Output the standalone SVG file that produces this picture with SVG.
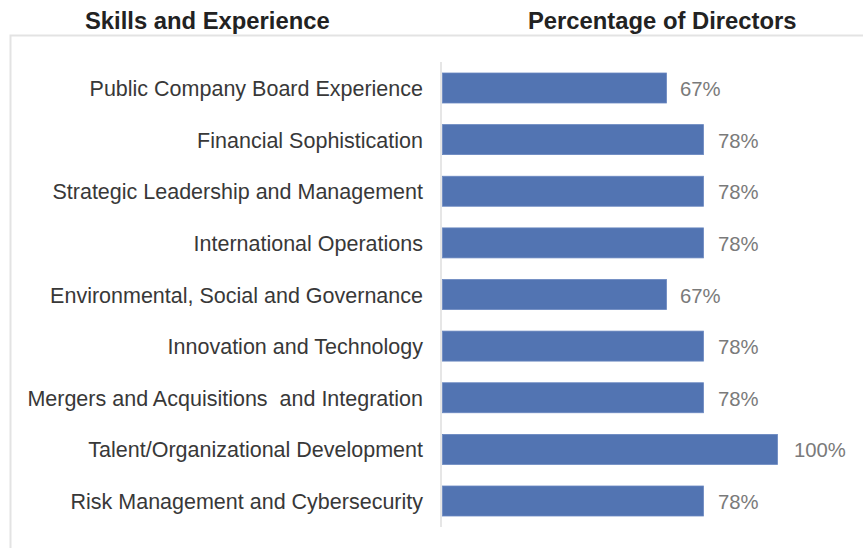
<svg xmlns="http://www.w3.org/2000/svg" width="863" height="548" viewBox="0 0 863 548">
<style>
.hdr{font-family:"Liberation Sans",Arial,sans-serif;font-weight:bold;font-size:23.8px;fill:#222222}
.lbl{font-family:"Liberation Sans",Arial,sans-serif;font-size:21.5px;fill:#383838;text-anchor:end}
.val{font-family:"Liberation Sans",Arial,sans-serif;font-size:20.3px;fill:#7a7a7a}
.bar{fill:#5274b2;stroke:#6a88c0;stroke-width:0.8}
.frame{stroke:#e3e3e3;stroke-width:2;fill:none}
</style>
<rect x="0" y="0" width="863" height="548" fill="#ffffff"/>
<g id="frame">
<path class="frame" d="M10.5 548 V35.5 H863"/>
<line x1="441" y1="62" x2="441" y2="527" stroke="#e6e6e6" stroke-width="2"/>
</g>
<g id="headers">
<text class="hdr" x="85" y="29">Skills and Experience</text>
<text class="hdr" x="528" y="29">Percentage of Directors</text>
</g>
<g id="row1">
<text class="lbl" x="423" y="96">Public Company Board Experience</text>
<rect class="bar" x="442.5" y="73" width="224" height="30"/>
<text class="val" x="680" y="96">67%</text>
</g>
<g id="row2">
<text class="lbl" x="423" y="147.6">Financial Sophistication</text>
<rect class="bar" x="442.5" y="124.6" width="261" height="30"/>
<text class="val" x="718" y="147.6">78%</text>
</g>
<g id="row3">
<text class="lbl" x="423" y="199.25">Strategic Leadership and Management</text>
<rect class="bar" x="442.5" y="176.25" width="261" height="30"/>
<text class="val" x="718" y="199.25">78%</text>
</g>
<g id="row4">
<text class="lbl" x="423" y="250.9">International Operations</text>
<rect class="bar" x="442.5" y="227.9" width="261" height="30"/>
<text class="val" x="718" y="250.9">78%</text>
</g>
<g id="row5">
<text class="lbl" x="423" y="302.5">Environmental, Social and Governance</text>
<rect class="bar" x="442.5" y="279.5" width="224" height="30"/>
<text class="val" x="680" y="302.5">67%</text>
</g>
<g id="row6">
<text class="lbl" x="423" y="354.1">Innovation and Technology</text>
<rect class="bar" x="442.5" y="331.1" width="261" height="30"/>
<text class="val" x="718" y="354.1">78%</text>
</g>
<g id="row7">
<text class="lbl" x="423" y="405.75" xml:space="preserve">Mergers and Acquisitions  and Integration</text>
<rect class="bar" x="442.5" y="382.75" width="261" height="30"/>
<text class="val" x="718" y="405.75">78%</text>
</g>
<g id="row8">
<text class="lbl" x="423" y="457.4">Talent/Organizational Development</text>
<rect class="bar" x="442.5" y="434.4" width="335" height="30"/>
<text class="val" x="794" y="457.4">100%</text>
</g>
<g id="row9">
<text class="lbl" x="423" y="509">Risk Management and Cybersecurity</text>
<rect class="bar" x="442.5" y="486" width="261" height="30"/>
<text class="val" x="718" y="509">78%</text>
</g>
</svg>
